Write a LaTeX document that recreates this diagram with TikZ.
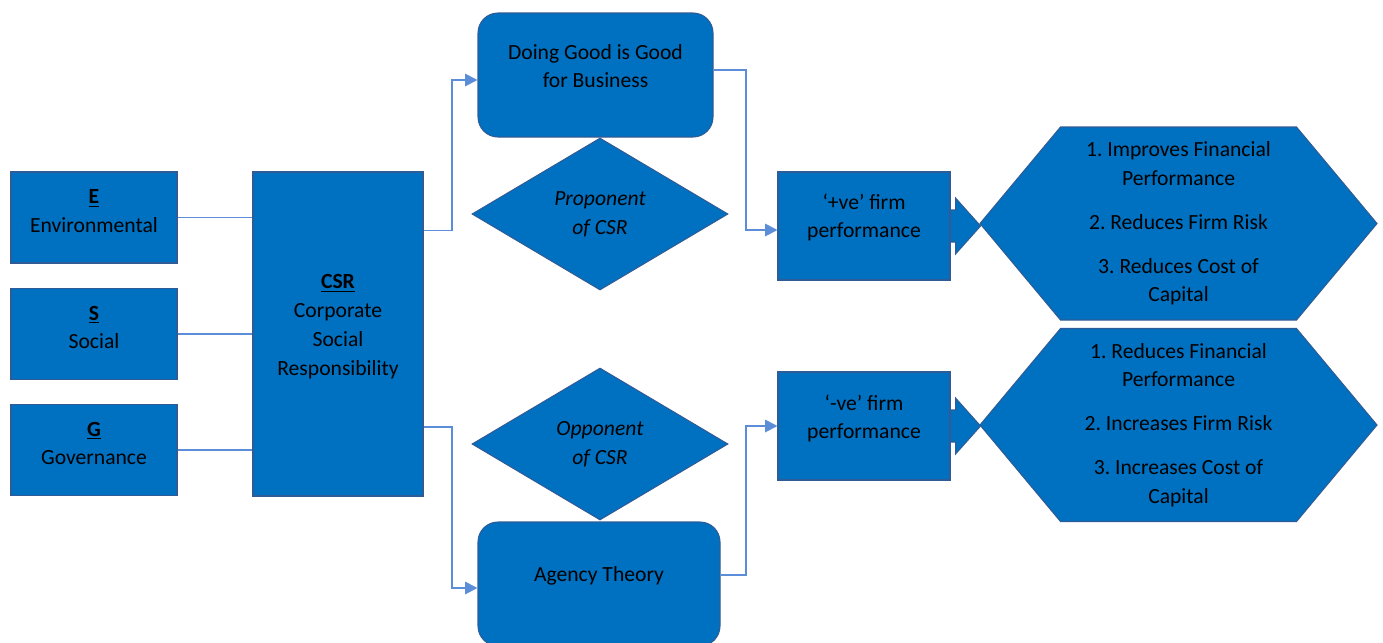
\documentclass[tikz,border=0pt]{standalone}
\usepackage{fontspec}
\setmainfont{Carlito}
\usepackage{xcolor}
\usepackage{tikz}
\usetikzlibrary{positioning, shapes, arrows.meta, backgrounds}
\definecolor{boxblue}{HTML}{0070C0}
\definecolor{edgeblue}{HTML}{2F5C96}
\definecolor{lineblue}{HTML}{5B8DD8}
\tikzstyle{link} = [draw=lineblue, line width=1.1pt]
\tikzstyle{arrow} = [link, -{Triangle[length=7pt,width=7pt]}]
\frenchspacing

\begin{document}
\begin{tikzpicture}[
    every node/.style={font=\fontsize{12.3}{16.4}\selectfont, text=black},
    pillar/.style={rectangle, draw=edgeblue, fill=boxblue, line width=0.6pt, minimum width=3.32cm, minimum height=1.82cm},
    csrbox/.style={rectangle, draw=edgeblue, fill=boxblue, line width=0.6pt, minimum width=3.4cm, minimum height=6.48cm},
    theory/.style={rectangle, draw=edgeblue, fill=boxblue, line width=0.6pt, rounded corners=0.4cm, minimum height=2.48cm},
    stance/.style={diamond, draw=edgeblue, fill=boxblue, line width=0.6pt, minimum width=5.12cm, minimum height=3.04cm, inner sep=0pt, align=center, font=\fontsize{12.3}{16.4}\selectfont\itshape},
    perf/.style={rectangle, draw=edgeblue, fill=boxblue, line width=0.6pt, minimum width=3.44cm, minimum height=2.16cm},
    boxtext/.style={align=center, inner sep=0pt},
    bigarrow/.style={fill=boxblue, draw=edgeblue, line width=0.6pt},
    hexfill/.style={fill=boxblue, draw=edgeblue, line width=0.6pt}
]
    \useasboundingbox (0,0) rectangle (27.66,-12.84);

    % ESG pillars on the left
    \node[pillar] (env) at (1.88, -4.35) {};
    \node[pillar] (soc) at (1.88, -6.68) {};
    \node[pillar] (gov) at (1.88, -9.0) {};
    \node[boxtext] (envtxt) at ([yshift=0.13cm]env.center) {\underline{\textbf{E}}\\Environmental};
    \node[boxtext] (soctxt) at ([yshift=0.13cm]soc.center) {\underline{\textbf{S}}\\Social};
    \node[boxtext] (govtxt) at ([yshift=0.13cm]gov.center) {\underline{\textbf{G}}\\Governance};

    % CSR block
    \node[csrbox] (csr) at (6.76, -6.68) {};
    \node[boxtext] (csrtxt) at ([yshift=0.15cm]csr.center) {\underline{\textbf{CSR}}\\Corporate\\Social\\Responsibility};

    % Two views of CSR
    \node[theory, minimum width=4.7cm] (good) at (11.91, -1.5) {};
    \node[boxtext] (goodtxt) at ([yshift=0.18cm]good.center) {Doing Good is Good\\for Business};
    \node[stance] (pro) at (12.0, -4.28) {Proponent\\of CSR};
    \node[stance] (opp) at (12.0, -8.88) {Opponent\\of CSR};
    \node[theory, minimum width=4.84cm] (agency) at (11.98, -11.68) {};
    \node[boxtext] (agencytxt) at ([yshift=0.16cm]agency.center) {Agency Theory};

    % Firm performance
    \node[perf] (pos) at (17.28, -4.52) {};
    \node[perf] (neg) at (17.28, -8.52) {};
    \node[boxtext] (postxt) at ([yshift=0.17cm]pos.center) {‘+ve’ firm\\performance};
    \node[boxtext] (negtxt) at ([yshift=0.15cm]neg.center) {‘-ve’ firm\\performance};

    % Outcome hexagons
    \coordinate (outpos) at (23.57, -4.47);
    \coordinate (outneg) at (23.57, -8.5);
    \foreach \c in {outpos, outneg}
        \filldraw[hexfill, shift={(\c)}] (-3.97,0) -- (-2.36,1.93) -- (2.36,1.93) -- (3.97,0) -- (2.36,-1.93) -- (-2.36,-1.93) -- cycle;
    \node[boxtext] (outpostxt) at (outpos) {1. Improves Financial\\Performance\\[0.3cm]2. Reduces Firm Risk\\[0.3cm]3. Reduces Cost of\\Capital};
    \node[boxtext] (outnegtxt) at (outneg) {1. Reduces Financial\\Performance\\[0.3cm]2. Increases Firm Risk\\[0.3cm]3. Increases Cost of\\Capital};

    % Block arrows into the hexagons
    \foreach \p in {pos, neg}
        \filldraw[bigarrow, shift={(\p.east)}] (0,0.32) -- (0.1,0.32) -- (0.1,0.56) -- (0.6,0) -- (0.1,-0.56) -- (0.1,-0.32) -- (0,-0.32) -- cycle;

    % Pillars to CSR
    \draw[link] (env.east) -- (env.east -| csr.west);
    \draw[link] (soc.east) -- (soc.east -| csr.west);
    \draw[link] (gov.east) -- (gov.east -| csr.west);

    % CSR to the theories
    \draw[arrow] ([yshift=-1.18cm]csr.north east) -- ++(0.56,0) |- ([yshift=-0.1cm]good.west);
    \draw[arrow] ([yshift=1.4cm]csr.south east) -- ++(0.56,0) |- ([yshift=-0.08cm]agency.west);

    % Theories to firm performance
    \draw[arrow] ([yshift=0.1cm]good.east) -- ++(0.64,0) |- ([yshift=-0.08cm]pos.west);
    \draw[arrow] ([yshift=0.18cm]agency.east) -- ++(0.5,0) |- (neg.west);

\end{tikzpicture}
\end{document}
